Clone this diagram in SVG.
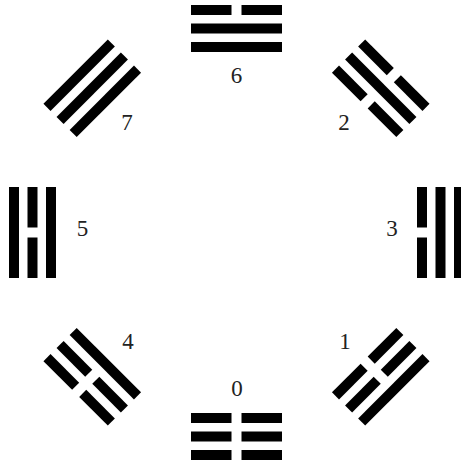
<svg xmlns="http://www.w3.org/2000/svg" xmlns:xlink="http://www.w3.org/1999/xlink" width="461" height="463" viewBox="0 0 461 463">
<style>
.bar{fill:#000}
.lbl{font-family:"Liberation Serif","Times New Roman",serif;font-size:23px;fill:#222;text-anchor:middle}
</style>
<defs>
<rect id="yang" class="bar" x="191" y="-5" width="91" height="10"/>
<g id="yin"><rect class="bar" x="191" y="-5" width="40.5" height="10"/><rect class="bar" x="241.5" y="-5" width="40.5" height="10"/></g>
</defs>
<rect width="461" height="463" fill="#fff"/>
<g id="tri6" transform="rotate(0 236.5 232.5)"><use href="#yin" y="10"/><use href="#yang" y="28.5"/><use href="#yang" y="47"/></g>
<g id="tri2" transform="rotate(45 236.5 232.5)"><use href="#yin" y="10"/><use href="#yang" y="28.5"/><use href="#yin" y="47"/></g>
<g id="tri3" transform="rotate(90 236.5 232.5)"><use href="#yang" y="10"/><use href="#yang" y="28.5"/><use href="#yin" y="47"/></g>
<g id="tri1" transform="rotate(135 236.5 232.5)"><use href="#yang" y="10"/><use href="#yin" y="28.5"/><use href="#yin" y="47"/></g>
<g id="tri0" transform="rotate(180 236.5 232.5)"><use href="#yin" y="10"/><use href="#yin" y="28.5"/><use href="#yin" y="47"/></g>
<g id="tri4" transform="rotate(225 236.5 232.5)"><use href="#yin" y="10"/><use href="#yin" y="28.5"/><use href="#yang" y="47"/></g>
<g id="tri5" transform="rotate(270 236.5 232.5)"><use href="#yang" y="10"/><use href="#yin" y="28.5"/><use href="#yang" y="47"/></g>
<g id="tri7" transform="rotate(315 236.5 232.5)"><use href="#yang" y="10"/><use href="#yang" y="28.5"/><use href="#yang" y="47"/></g>
<g id="labels">
<text class="lbl" x="236.5" y="83">6</text>
<text class="lbl" x="344" y="130">2</text>
<text class="lbl" x="392" y="236">3</text>
<text class="lbl" x="345" y="349">1</text>
<text class="lbl" x="237" y="395.5">0</text>
<text class="lbl" x="128" y="349">4</text>
<text class="lbl" x="82.5" y="236">5</text>
<text class="lbl" x="127" y="130">7</text>
</g>
<g id="connectors"/>
</svg>
